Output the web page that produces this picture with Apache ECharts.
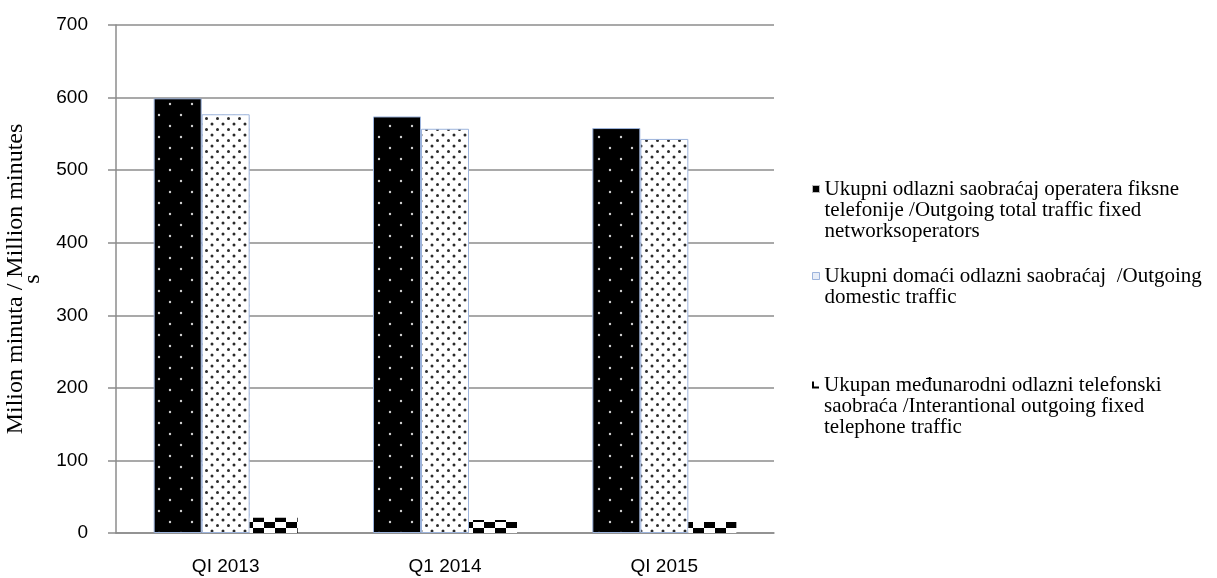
<!DOCTYPE html>
<html>
<head>
<meta charset="utf-8">
<script src="https://cdn.jsdelivr.net/npm/echarts@6/dist/echarts.min.js"></script>
<style>
html,body{margin:0;padding:0;background:#fff;}
#main{width:1217px;height:578px;}
</style>
</head>
<body>
<div id="main"></div>
<script>
// ---- data ----
const categories = ['QI 2013', 'Q1 2014', 'QI 2015'];
const seriesNames = [
  'Ukupni odlazni saobraćaj operatera fiksne\ntelefonije /Outgoing total traffic fixed\nnetworksoperators',
  'Ukupni domaći odlazni saobraćaj  /Outgoing\ndomestic traffic',
  'Ukupan međunarodni odlazni telefonski\nsaobraća /Interantional outgoing fixed\ntelephone traffic'
];
const totalTraffic = [599, 574, 558];
const domesticTraffic = [577, 557, 543];
const internationalTraffic = [21, 18, 15];
const yTicks = [0, 100, 200, 300, 400, 500, 600, 700];

// ---- patterns ----
function makeCanvas(w, h, draw) {
  const c = document.createElement('canvas');
  c.width = w; c.height = h;
  draw(c.getContext('2d'));
  return c;
}
const blackDots = makeCanvas(22, 22, ctx => {
  ctx.fillStyle = '#000'; ctx.fillRect(0, 0, 22, 22);
  ctx.fillStyle = '#d0d0d0';
  [[5, 5], [16, 16]].forEach(p => { ctx.beginPath(); ctx.arc(p[0], p[1], 1.2, 0, Math.PI * 2); ctx.fill(); });
});
const whiteDots = makeCanvas(11, 11, ctx => {
  ctx.fillStyle = '#fff'; ctx.fillRect(0, 0, 11, 11);
  ctx.fillStyle = '#2a2a2a';
  [[3, 3], [8.5, 8.5]].forEach(p => { ctx.beginPath(); ctx.arc(p[0], p[1], 1.5, 0, Math.PI * 2); ctx.fill(); });
});
const checker = makeCanvas(22, 12, ctx => {
  ctx.fillStyle = '#fff'; ctx.fillRect(0, 0, 22, 12);
  ctx.fillStyle = '#000';
  ctx.fillRect(11, 0, 11, 6);
  ctx.fillRect(0, 6, 11, 6);
});

const serif = '"Liberation Serif", "Times New Roman", serif';
const sans = '"Liberation Sans", Arial, sans-serif';

function legendFor(item, top, lines) {
  return {
    data: [item],
    left: 812,
    top: top,
    orient: 'vertical',
    padding: 0,
    itemWidth: 7,
    itemHeight: 7,
    itemGap: 0,
    selectedMode: false,
    formatter: name => '\n'.repeat(lines - 1) + name,
    textStyle: {
      fontFamily: serif,
      fontSize: 21,
      lineHeight: 21,
      color: '#000'
    }
  };
}

const chart = echarts.init(document.getElementById('main'), null, { renderer: 'canvas' });
chart.setOption({
  animation: false,
  backgroundColor: '#fff',
  grid: { left: 116, right: 443, top: 25, bottom: 45, containLabel: false, outerBoundsMode: 'none' },
  legend: [
    legendFor({ name: seriesNames[0], icon: 'rect', itemStyle: { color: '#000', borderColor: '#bbb', borderWidth: 1 } }, 136.5, 3),
    legendFor({ name: seriesNames[1], icon: 'rect', itemStyle: { color: '#e8eef8', borderColor: '#9db4dc', borderWidth: 1 } }, 244.5, 2),
    legendFor({ name: seriesNames[2], icon: 'path://M0,0 L2,0 L2,5 L7,5 L7,7 L0,7 Z', itemStyle: { color: '#000', borderWidth: 0 } }, 332.5, 3)
  ],
  xAxis: {
    type: 'category',
    data: categories,
    axisLine: { show: true, lineStyle: { color: '#8c8c8c', width: 1.5 } },
    axisTick: { show: false },
    axisLabel: { fontFamily: sans, fontSize: 19, color: '#000', margin: 24 }
  },
  yAxis: {
    type: 'value',
    min: 0, max: 700, interval: 100,
    name: 'Milion minuta / Million minutes\ns',
    nameLocation: 'middle',
    nameGap: 75,
    nameTextStyle: { fontFamily: serif, fontSize: 24, color: '#000', lineHeight: 17 },
    axisLine: { show: true, lineStyle: { color: '#8c8c8c', width: 1.5 } },
    axisTick: { show: true, length: 8, lineStyle: { color: '#8c8c8c', width: 1.5 } },
    splitLine: { show: true, lineStyle: { color: '#8c8c8c', width: 1.5 } },
    axisLabel: {
      fontFamily: sans, fontSize: 19, color: '#000', margin: 28,
      formatter: v => (yTicks.indexOf(v) >= 0 ? String(v) : '')
    }
  },
  series: [
    {
      name: seriesNames[0], type: 'bar', data: totalTraffic,
      barWidth: 48, barGap: '0%',
      itemStyle: { color: { image: blackDots, repeat: 'repeat' }, borderColor: '#9db4dc', borderWidth: 1 }
    },
    {
      name: seriesNames[1], type: 'bar', data: domesticTraffic,
      barWidth: 48, barGap: '0%',
      itemStyle: { color: { image: whiteDots, repeat: 'repeat' }, borderColor: '#9db4dc', borderWidth: 1 }
    },
    {
      name: seriesNames[2], type: 'bar', data: internationalTraffic,
      barWidth: 48, barGap: '0%',
      itemStyle: { color: { image: checker, repeat: 'repeat' } }
    }
  ]
});
</script>
</body>
</html>
